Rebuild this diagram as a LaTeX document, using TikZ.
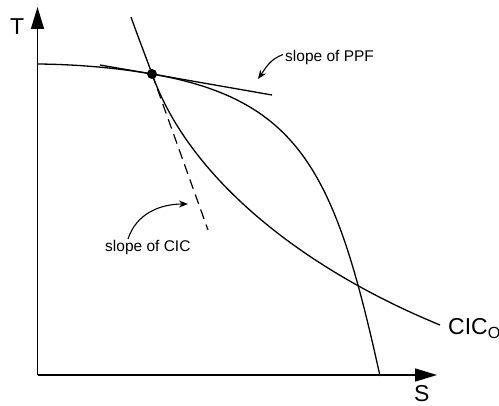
\documentclass[tikz,border=0pt]{standalone}
\usepackage{fontspec}
\setmainfont{Liberation Sans}
\usetikzlibrary{arrows.meta}
\begin{document}
\begin{tikzpicture}[x=1pt,y=-1pt,
  curve/.style={line width=1.3pt,line join=round},
  axis/.style={line width=1.4pt,-{Triangle[length=22pt,width=13pt]}},
  lbl/.style={anchor=base west,inner sep=0pt,font=\fontsize{15.5}{18}\selectfont},
  biglbl/.style={anchor=base west,inner sep=0pt,font=\fontsize{23}{26}\selectfont},
  pointer/.style={line width=1.1pt,-{Stealth[length=9pt,width=7pt]}}]
\useasboundingbox (0,0) rectangle (499,406);
% axes
\coordinate (O) at (37.5,375);
\coordinate (Ttip) at (37.5,7);
\coordinate (Stip) at (437,375);
\draw[axis] (O) -- (Ttip);
\draw[axis] (O) -- (Stip);
\node[biglbl] (Tl) at (10,35) {T};
\node[biglbl] (Sl) at (414,401.5) {S};
% tangency point
\node[circle,fill,inner sep=0pt,minimum size=10pt] (E) at (152,74) {};
% PPF
\coordinate (P0) at (37.5,64);
\coordinate (P3) at (380,376);
\draw[curve] (P0) .. controls (90,64.5) and (130,70.2) .. (E.center)
  .. controls (302,100) and (336,176) .. (P3);
% CIC
\coordinate (C0) at (131,17);
\coordinate (C3) at (440,325);
\draw[curve] (C0) .. controls (138,37) and (145.3,55.1) .. (E.center)
  .. controls (188.9,177.7) and (301.2,268) .. (C3);
\node[biglbl] (CIC) at (448,335) {CIC\textsubscript{O}};
% tangent lines
\coordinate (tA) at (100,65);
\coordinate (tB) at (272,95);
\draw[line width=1.3pt] (tA) -- (E.center) -- (tB);
\coordinate (dB) at (208,230);
\draw[line width=1.2pt,dash pattern=on 10pt off 6pt] (E.center) -- (dB);
% labels
\node[lbl] (ppf) at (285,61.5) {slope of PPF};
\coordinate (ppfTip) at (258,79);
\draw[pointer] (ppf.west) ++(-2,-3) to[out=200,in=55] (ppfTip);
\node[lbl] (cic) at (105,252) {slope of CIC};
\coordinate (cicTip) at (188,204);
\draw[pointer] (128,239) to[out=72,in=180] (cicTip);
\end{tikzpicture}
\end{document}
